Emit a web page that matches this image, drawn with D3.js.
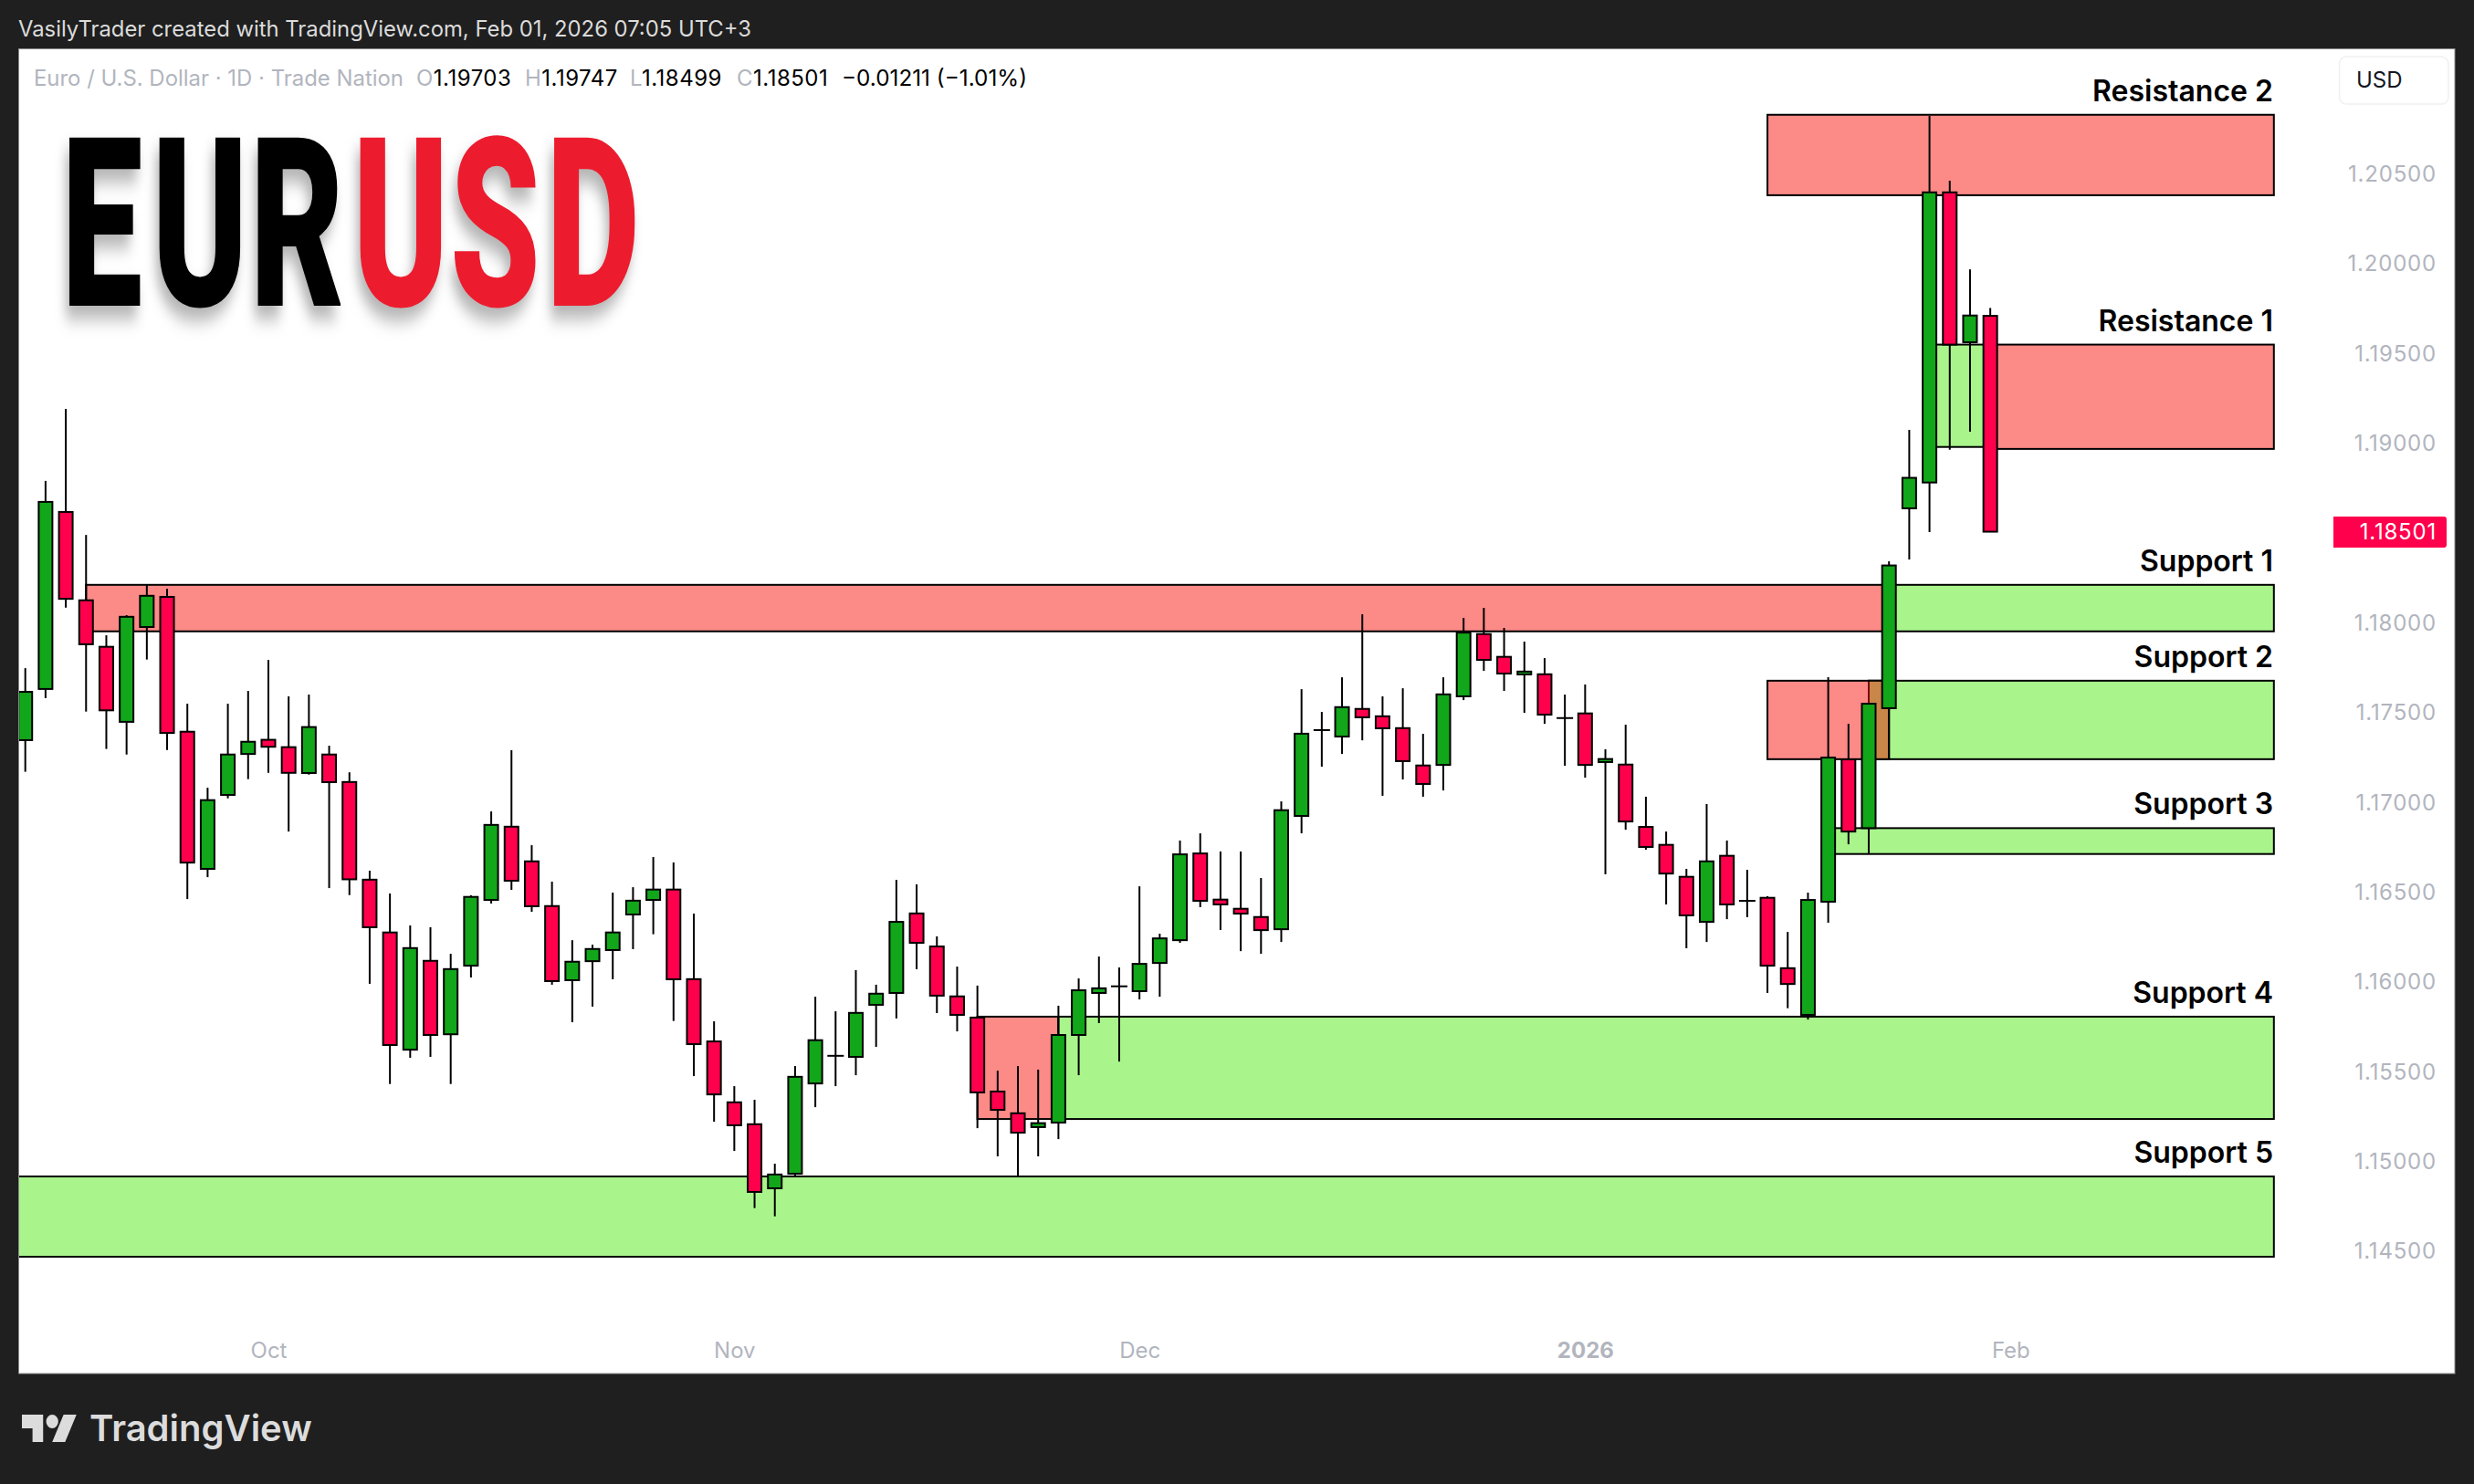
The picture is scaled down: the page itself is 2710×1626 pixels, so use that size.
<!DOCTYPE html>
<html>
<head>
<meta charset="utf-8">
<script src="https://cdn.jsdelivr.net/npm/d3@7"></script>
<style>
    html, body { margin: 0; padding: 0; background: #1f1f1f; }
    svg { display: block; }
    text { font-family: Inter, "Noto Sans", sans-serif; }
</style>
</head>
<body>
<svg id="chart" width="2710" height="1626"></svg>
<script>
// daily candles
const opens = [1.17340,1.17625,1.18611,1.18119,1.17860,1.17442,1.17970,1.18138,1.17387,1.16623,1.17035,1.17263,1.17342,1.17301,1.17157,1.17260,1.17107,1.16563,1.16269,1.15616,1.16111,1.15702,1.16084,1.16450,1.16858,1.16665,1.16416,1.16003,1.16109,1.16171,1.16369,1.16450,1.16508,1.16009,1.15662,1.15323,1.15201,1.14844,1.14925,1.15428,1.15582,1.15576,1.15866,1.15932,1.16375,1.16191,1.15913,1.15795,1.15383,1.15262,1.15185,1.15210,1.15698,1.15932,1.15969,1.15942,1.16099,1.16226,1.16709,1.16452,1.16401,1.16355,1.16287,1.16918,1.17396,1.17360,1.17514,1.17473,1.17407,1.17199,1.17202,1.17584,1.17931,1.17804,1.17706,1.17707,1.17463,1.17489,1.17218,1.17204,1.16857,1.16757,1.16579,1.16328,1.16696,1.16445,1.16462,1.16070,1.15810,1.16440,1.17233,1.16850,1.17518,1.18631,1.18775,1.20391,1.19556,1.19703];
const highs = [1.17741,1.18784,1.19185,1.18483,1.17924,1.18036,1.18205,1.18183,1.17543,1.17075,1.17543,1.17614,1.17787,1.17584,1.17594,1.17309,1.17161,1.16613,1.16486,1.16308,1.16298,1.16150,1.16476,1.16943,1.17284,1.16755,1.16552,1.16226,1.16201,1.16491,1.16521,1.16689,1.16659,1.16374,1.15774,1.15413,1.15337,1.14981,1.15525,1.15911,1.15830,1.16059,1.15978,1.16562,1.16537,1.16247,1.16079,1.15973,1.15499,1.15525,1.15505,1.15861,1.16013,1.16135,1.16074,1.16526,1.16262,1.16781,1.16821,1.16720,1.16720,1.16572,1.16999,1.17624,1.17497,1.17690,1.18041,1.17584,1.17629,1.17375,1.17690,1.18021,1.18077,1.17965,1.17889,1.17797,1.17594,1.17650,1.17289,1.17426,1.17025,1.16831,1.16623,1.16984,1.16781,1.16618,1.16471,1.16272,1.16491,1.17690,1.17431,1.17666,1.18336,1.19068,1.20817,1.20456,1.19962,1.19747];
const lows = [1.17164,1.17574,1.18078,1.17499,1.17291,1.17260,1.17789,1.17285,1.16455,1.16577,1.17016,1.17123,1.17158,1.16831,1.17148,1.16516,1.16477,1.15983,1.15425,1.15571,1.15576,1.15425,1.16018,1.16430,1.16506,1.16384,1.15978,1.15769,1.15856,1.16008,1.16176,1.16259,1.15776,1.15469,1.15215,1.15052,1.14734,1.14688,1.14915,1.15296,1.15413,1.15474,1.15632,1.15790,1.16064,1.15820,1.15718,1.15179,1.15022,1.14910,1.15022,1.15118,1.15474,1.15764,1.15550,1.15896,1.15911,1.16211,1.16410,1.16283,1.16165,1.16150,1.16216,1.16821,1.17192,1.17263,1.17339,1.17030,1.17121,1.17025,1.17060,1.17563,1.17726,1.17614,1.17492,1.17431,1.17197,1.17131,1.16593,1.16841,1.16730,1.16425,1.16181,1.16216,1.16343,1.16354,1.15932,1.15847,1.15784,1.16323,1.16760,1.16704,1.17233,1.18346,1.18499,1.18957,1.19058,1.18499];
const closes = [1.17609,1.18667,1.18127,1.17874,1.17506,1.18027,1.18144,1.17380,1.16658,1.17006,1.17260,1.17331,1.17303,1.17158,1.17413,1.17106,1.16565,1.16298,1.15642,1.16182,1.15698,1.16065,1.16467,1.16868,1.16557,1.16415,1.15998,1.16106,1.16177,1.16269,1.16446,1.16508,1.16008,1.15647,1.15367,1.15195,1.14824,1.14921,1.15465,1.15669,1.15582,1.15821,1.15928,1.16328,1.16211,1.15917,1.15810,1.15378,1.15281,1.15154,1.15207,1.15698,1.15947,1.15958,1.15969,1.16094,1.16236,1.16704,1.16445,1.16425,1.16374,1.16282,1.16950,1.17376,1.17396,1.17524,1.17467,1.17406,1.17223,1.17096,1.17595,1.17939,1.17787,1.17711,1.17722,1.17482,1.17463,1.17202,1.17235,1.16887,1.16745,1.16597,1.16364,1.16665,1.16425,1.16445,1.16084,1.15982,1.16450,1.17243,1.16831,1.17543,1.18313,1.18801,1.20391,1.19543,1.19705,1.18501];

const priceTicks = [1.205,1.2,1.195,1.19,1.185,1.18,1.175,1.17,1.165,1.16,1.155,1.15,1.145];
const monthLabels = ['Oct','Nov','Dec','2026','Feb'];
const monthBars = [12,35,55,77,98];

// zones: [first bar, last bar, top price, bottom price]
const redZones = [[86,111,1.20823,1.20375],[97,111,1.19543,1.18962],[3,92,1.18205,1.17946],[86,92,1.17671,1.17234],[47,51,1.15800,1.15230]];
const greenZones = [[94,97,1.19543,1.18973],[92,111,1.18205,1.17946],[91,111,1.17671,1.17234],[89,111,1.16850,1.16706],[51,111,1.15800,1.15230],[-2,111,1.14910,1.14463]];
const overlapZones = [[91,92,1.17671,1.17234]];
const zoneNames = ['Resistance 2','Resistance 1','Support 1','Support 2','Support 3','Support 4','Support 5'];
const zoneTops = [1.20823,1.19543,1.18205,1.17671,1.16850,1.15800,1.14910];
const tintedWicks = [91]; // wick shows through the overlap colour
const lastClose = closes[closes.length-1];

const GREEN='#12a61a', RED='#ff004c', ZRED='#fc8a87', ZGREEN='#a9f58c', AXIS='#b2b5be';

const svg = d3.select('#chart');
const x = d3.scaleLinear().domain([0,111]).range([27.7,2490.8]);
const y = d3.scaleLinear().domain([1.205,1.145]).range([189.3,1369.7]);

svg.append('rect').attr('width',2710).attr('height',1626).attr('fill','#1f1f1f');
svg.append('rect').attr('x',20.5).attr('y',53.5).attr('width',2668.5).attr('height',1451.5)
    .attr('fill','#fff').attr('stroke','#8a8a8a').attr('stroke-width',1);
svg.append('clipPath').attr('id','plot').append('rect').attr('x',21).attr('y',54).attr('width',2668).attr('height',1451);

const plot = svg.append('g').attr('clip-path','url(#plot)');

function drawZones(list, color) {
    plot.append('g').selectAll('rect').data(list).join('rect')
        .attr('x',d=>x(d[0])).attr('width',d=>x(d[1])-x(d[0]))
        .attr('y',d=>y(d[2])).attr('height',d=>y(d[3])-y(d[2]))
        .attr('fill',color).attr('stroke','#000').attr('stroke-width',2);
}
drawZones(redZones, ZRED);
drawZones(greenZones, ZGREEN);
drawZones(overlapZones, '#c98649');

// candles
const bars = d3.range(closes.length);
const candles = plot.append('g').selectAll('g').data(bars).join('g');
candles.append('line')
    .attr('x1',i=>x(i)).attr('x2',i=>x(i))
    .attr('y1',i=>y(highs[i])).attr('y2',i=>y(lows[i]))
    .attr('stroke','#000').attr('stroke-width',2);
candles.filter(i=>tintedWicks.includes(i)).append('line')
    .attr('x1',i=>x(i)).attr('x2',i=>x(i))
    .attr('y1',i=>y(highs[i])).attr('y2',i=>y(closes[i]))
    .attr('stroke','#7a0a0a').attr('stroke-width',2);
candles.filter(i=>opens[i]==closes[i]).append('line')
    .attr('x1',i=>x(i)-9).attr('x2',i=>x(i)+9)
    .attr('y1',i=>y(closes[i])).attr('y2',i=>y(closes[i]))
    .attr('stroke','#000').attr('stroke-width',2);
candles.filter(i=>opens[i]!=closes[i]).append('rect')
    .attr('x',i=>x(i)-7.5).attr('width',15)
    .attr('y',i=>y(Math.max(opens[i],closes[i])))
    .attr('height',i=>Math.abs(y(opens[i])-y(closes[i])))
    .attr('fill',i=>closes[i]>opens[i] ? GREEN : RED)
    .attr('stroke','#000').attr('stroke-width',2);

// zone labels
svg.append('g').selectAll('text').data(zoneNames).join('text')
    .attr('x',2490).attr('y',(d,i)=>y(zoneTops[i])-15)
    .attr('text-anchor','end').attr('font-size',32).attr('font-weight',600).attr('fill','#000')
    .text(d=>d);

// axes
const yAxis = svg.append('g').attr('transform','translate(2669,1.5)')
    .call(d3.axisRight(y).tickValues(priceTicks).tickSize(0).tickPadding(0).tickFormat(d3.format('.5f')));
yAxis.select('.domain').remove();
yAxis.selectAll('text').attr('text-anchor','end').attr('font-size',24).attr('letter-spacing',.8)
    .attr('font-family','Inter').attr('fill',AXIS);

const xAxis = svg.append('g').attr('transform','translate(0,1471)')
    .call(d3.axisBottom(x).tickValues(monthBars).tickSize(0).tickPadding(0).tickFormat((d,i)=>monthLabels[i]));
xAxis.select('.domain').remove();
xAxis.selectAll('text').attr('font-size',24).attr('font-family','Inter').attr('fill',AXIS)
    .attr('font-weight',(d,i)=>monthLabels[i]=='2026' ? 700 : 400);

// last price tag
svg.append('path').attr('d','M2556 566H2677a3 3 0 0 1 3 3V597a3 3 0 0 1 -3 3H2556Z').attr('fill',RED);
svg.append('text').attr('x',2669).attr('y',y(lastClose)).attr('dy','.36em').attr('text-anchor','end')
    .attr('font-size',24).attr('letter-spacing',.8).attr('fill','#fff').text(d3.format('.5f')(lastClose));

// USD box
svg.append('rect').attr('x',2562.5).attr('y',62).attr('width',119.5).attr('height',52).attr('rx',8)
    .attr('fill','#fff').attr('stroke','#f0f0f2').attr('stroke-width',1.5);
svg.append('text').attr('x',2581).attr('y',96).attr('font-size',24).attr('fill','#131722').text('USD');

// header strip
svg.append('text').attr('x',20).attr('y',40).attr('font-size',24).attr('fill','#dbdbdb')
    .attr('textLength',803).attr('lengthAdjust','spacingAndGlyphs')
    .text('VasilyTrader created with TradingView.com, Feb 01, 2026 07:05 UTC+3');

const legend = svg.append('g').attr('font-size',24);
legend.append('text').attr('x',37).attr('y',94).attr('fill',AXIS)
    .attr('textLength',405).attr('lengthAdjust','spacingAndGlyphs')
    .text('Euro / U.S. Dollar · 1D · Trade Nation');
const ohlcNames = ['O','H','L','C'];
const ohlcValues = [opens[97],highs[97],lows[97],closes[97]];
const ohlcX = [456,575,690,807];
ohlcNames.forEach((n,i)=>{
    const t = legend.append('text').attr('x',ohlcX[i]).attr('y',94).attr('letter-spacing',.5);
    t.append('tspan').attr('fill',AXIS).text(n);
    t.append('tspan').attr('fill','#000').text(d3.format('.5f')(ohlcValues[i]));
});
legend.append('text').attr('x',922).attr('y',94).attr('fill','#000')
    .attr('textLength',203).attr('lengthAdjust','spacingAndGlyphs').text('−0.01211 (−1.01%)');

// big title: one text, a start for each glyph, squeezed sideways to the condensed look
const titleScale = 0.61;
const titleBlack = 'EUR';
const titleRed = 'USD';
const titleStarts = [67.5,166.5,274,386.5,493,598.5];
const title = svg.append('text')
    .attr('transform',`scale(${titleScale},1)`)
    .attr('y',335).attr('font-size',259).attr('font-weight',900)
    .style('font-family','Roboto')
    .style('filter','drop-shadow(-6px 14px 10px rgba(0,0,0,.3))');
title.append('tspan').attr('fill','#000')
    .attr('x',titleStarts.slice(0,3).map(v=>v/titleScale).join(' ')).text(titleBlack);
title.append('tspan').attr('fill','#ec1c2e')
    .attr('x',titleStarts.slice(3).map(v=>v/titleScale).join(' ')).text(titleRed);

// footer logo
svg.append('path').attr('d','M14 6H0v8h7v8h7V6Zm14.5 16H20l7.5-16H36l-7.5 16ZM20 14a4 4 0 1 0 0-8 4 4 0 0 0 0 8Z')
    .attr('transform','translate(24,1538.75) scale(1.66,1.875)').attr('fill','#dcdcdc');
svg.append('text').attr('x',98).attr('y',1579).attr('font-size',40).attr('font-weight',600).attr('fill','#dcdcdc').text('TradingView');
</script>
</body>
</html>
